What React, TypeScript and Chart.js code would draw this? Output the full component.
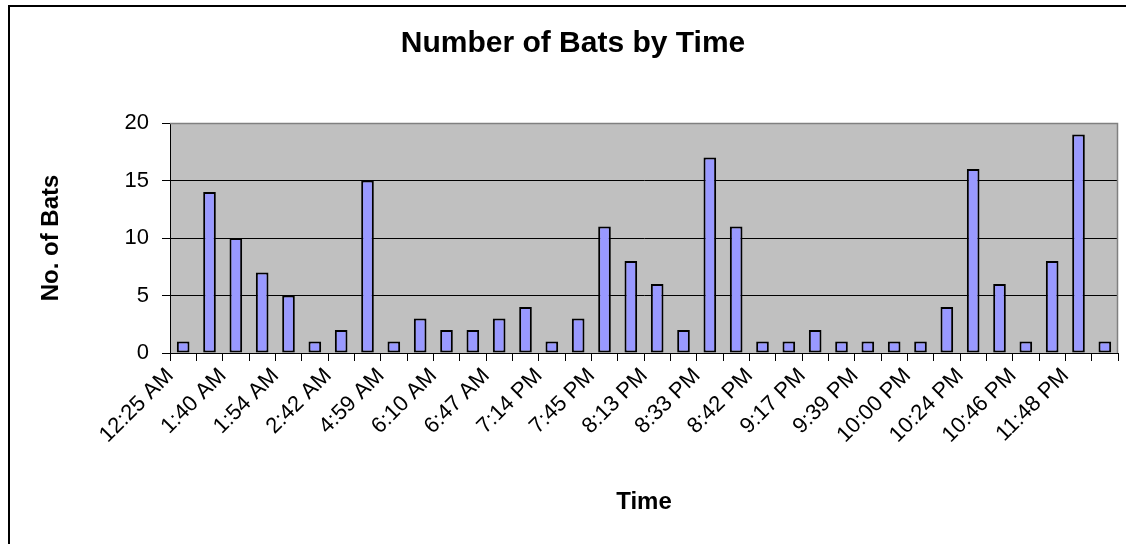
import React, { useEffect, useRef } from "react";
import { Chart, registerables } from "chart.js";

Chart.register(...registerables);

const CHART_TITLE = "Number of Bats by Time";
const X_TITLE = "Time";
const Y_TITLE = "No. of Bats";

// Every other label is shown on the axis (as in the reference); the hidden ones are estimates.
const times = [
  "12:25 AM", "1:20 AM", "1:40 AM", "1:45 AM", "1:54 AM", "2:10 AM",
  "2:42 AM", "4:30 AM", "4:59 AM", "5:35 AM", "6:10 AM", "6:30 AM",
  "6:47 AM", "7:05 PM", "7:14 PM", "7:30 PM", "7:45 PM", "8:00 PM",
  "8:13 PM", "8:25 PM", "8:33 PM", "8:38 PM", "8:42 PM", "9:00 PM",
  "9:17 PM", "9:28 PM", "9:39 PM", "9:50 PM", "10:00 PM", "10:12 PM",
  "10:24 PM", "10:35 PM", "10:46 PM", "11:15 PM", "11:48 PM", "11:55 PM",
];

const bats = [
  1, 14, 10, 7, 5, 1, 2, 15, 1, 3, 2, 2,
  3, 4, 1, 3, 11, 8, 6, 2, 17, 11, 1, 1,
  2, 1, 1, 1, 1, 4, 16, 6, 1, 8, 19, 1,
];

const yMin = 0;
const yMax = 20;
const yStep = 5;

const FONT = "Arial, 'Liberation Sans', sans-serif";

const decor = {
  id: "decor",
  beforeDraw(chart: any) {
    const { ctx, chartArea: a } = chart;
    ctx.save();
    ctx.fillStyle = "#ffffff";
    ctx.fillRect(0, 0, chart.width, chart.height);
    ctx.fillStyle = "#C0C0C0";
    ctx.fillRect(a.left, a.top, a.right - a.left, a.bottom - a.top);
    ctx.restore();
  },
  afterDraw(chart: any) {
    const { ctx, chartArea: a } = chart;
    ctx.save();
    // plot area top/right border
    ctx.strokeStyle = "#808080";
    ctx.lineWidth = 1.5;
    ctx.beginPath();
    ctx.moveTo(a.left, a.top + 0.5);
    ctx.lineTo(a.right - 0.5, a.top + 0.5);
    ctx.lineTo(a.right - 0.5, a.bottom);
    ctx.stroke();
    // outer chart frame
    ctx.strokeStyle = "#000000";
    ctx.lineWidth = 2;
    ctx.beginPath();
    ctx.moveTo(9, chart.height + 2);
    ctx.lineTo(9, 6);
    ctx.lineTo(chart.width + 2, 6);
    ctx.stroke();
    // chart title
    ctx.fillStyle = "#000000";
    ctx.font = `bold 30px ${FONT}`;
    ctx.textAlign = "center";
    ctx.textBaseline = "middle";
    ctx.fillText(CHART_TITLE, 573, 44);
    ctx.restore();
  },
};

export default function App() {
  const ref = useRef<HTMLCanvasElement | null>(null);

  useEffect(() => {
    if (!ref.current) return;
    Chart.defaults.font.family = FONT;
    Chart.defaults.color = "#000000";
    const chart = new Chart(ref.current, {
      type: "bar",
      data: {
        labels: times,
        datasets: [
          {
            data: bats,
            backgroundColor: "#9999FF",
            borderColor: "#000000",
            borderWidth: 2,
            borderSkipped: false,
            categoryPercentage: 1,
            barPercentage: 0.48,
          },
        ],
      },
      options: {
        responsive: false,
        animation: false,
        events: [],
        layout: { padding: { left: 0, right: 8, top: 123, bottom: 0 } },
        plugins: {
          legend: { display: false },
          tooltip: { enabled: false },
          title: { display: false },
        },
        scales: {
          x: {
            offset: true,
            grid: {
              offset: true,
              drawOnChartArea: false,
              drawTicks: true,
              tickLength: 8,
              color: "#000000",
              tickColor: "#000000",
            },
            border: { display: true, color: "#000000", width: 1 },
            ticks: {
              autoSkip: false,
              minRotation: 45,
              maxRotation: 45,
              padding: 2,
              labelOffset: -13,
              font: { size: 22 },
              color: "#000000",
              callback: (_v: any, i: number) => (i % 2 === 0 ? times[i] : ""),
            },
            title: {
              display: true,
              text: X_TITLE,
              font: { size: 24, weight: "bold" },
              color: "#000000",
              padding: { top: 0, bottom: 27 },
            },
            afterFit: (scale: any) => {
              scale.height = 191;
              scale.paddingLeft = 0;
              scale.paddingRight = 0;
            },
          },
          y: {
            min: yMin,
            max: yMax,
            grid: {
              color: (c: any) => (c.tick && c.tick.value === yMax ? "#808080" : "#000000"),
              tickColor: "#000000",
              tickLength: 8,
              lineWidth: 1,
            },
            border: { display: true, color: "#000000", width: 1 },
            ticks: {
              stepSize: yStep,
              padding: 13,
              font: { size: 22 },
              color: "#000000",
            },
            title: {
              display: true,
              text: Y_TITLE,
              font: { size: 24, weight: "bold" },
              color: "#000000",
              padding: { top: 37, bottom: 0 },
            },
            afterFit: (scale: any) => {
              scale.width = 170;
            },
          },
        },
      },
      plugins: [decor],
    });
    return () => chart.destroy();
  }, []);

  return (
    <div style={{ position: "fixed", left: 0, top: 0, width: 1126, height: 544 }}>
      <canvas ref={ref} width={1126} height={544} style={{ display: "block" }} />
    </div>
  );
}
